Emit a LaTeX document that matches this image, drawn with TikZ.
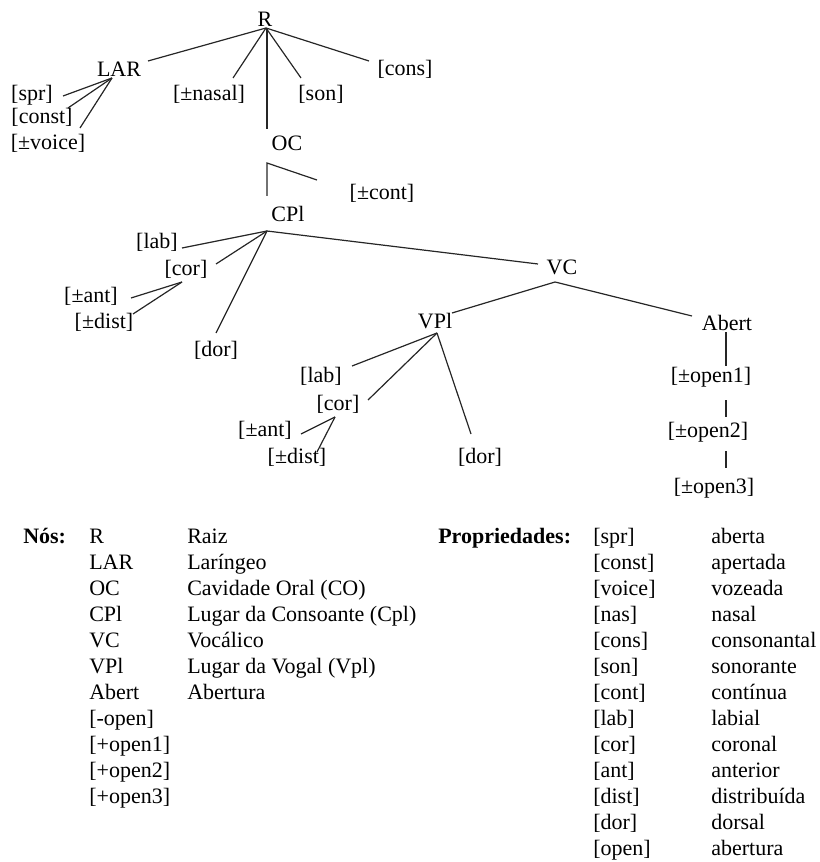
\documentclass[tikz,border=0pt]{standalone}
\usepackage{fontspec}
\setmainfont{Liberation Serif}
\begin{document}
\begin{tikzpicture}[x=0.75pt,y=-0.75pt,
  lbl/.style={inner sep=0pt, text height=11.2pt, text depth=3.3pt, font=\fontsize{16.5}{19}\selectfont},
  tbl/.style={lbl, anchor=west},
  hd/.style={tbl, font=\fontsize{16.5}{19}\selectfont\bfseries},
  edge/.style={draw=black!85, line width=0.9pt}]
\useasboundingbox (0,0) rectangle (819,862);

% ---------- tree nodes ----------
\node[lbl] (R) at (265,21) {R};
\node[lbl] (LAR) at (119,71) {LAR};
\node[lbl] (cons) at (405,70) {[cons]};
\node[lbl] (nasal) at (209,95) {[±nasal]};
\node[lbl] (son) at (321,95) {[son]};
\node[lbl] (spr) at (32,95) {[spr]};
\node[lbl] (const) at (42,118) {[const]};
\node[lbl] (voice) at (48,144) {[±voice]};
\node[lbl] (OC) at (287,145) {OC};
\node[lbl] (cont) at (382,194) {[±cont]};
\node[lbl] (CPl) at (288,216) {CPl};
\node[lbl] (labA) at (157,243) {[lab]};
\node[lbl] (corA) at (186,270) {[cor]};
\node[lbl] (antA) at (91,297) {[±ant]};
\node[lbl] (distA) at (104,323) {[±dist]};
\node[lbl] (dorA) at (216,351) {[dor]};
\node[lbl] (VC) at (562,269) {VC};
\node[lbl] (VPl) at (435,323) {VPl};
\node[lbl] (Abert) at (727,325) {Abert};
\node[lbl] (labB) at (321,377) {[lab]};
\node[lbl] (corB) at (338,405) {[cor]};
\node[lbl] (antB) at (265,431) {[±ant]};
\node[lbl] (distB) at (297,458) {[±dist]};
\node[lbl] (dorB) at (480,458) {[dor]};
\node[lbl] (op1) at (711,377) {[±open1]};
\node[lbl] (op2) at (708,432) {[±open2]};
\node[lbl] (op3) at (714,488) {[±open3]};

% ---------- connector points ----------
\coordinate (Rh) at (266,28);
\coordinate (Rv) at (267,28);
\coordinate (LARu) at (148,61);
\coordinate (nasalu) at (233,78);
\coordinate (sonu) at (301,78);
\coordinate (consu) at (369,61);
\coordinate (OCu) at (267,129);
\coordinate (LARh) at (112,78);
\coordinate (spre) at (63,96);
\coordinate (conste) at (68,108);
\coordinate (voicee) at (80,128);
\coordinate (OCh) at (267,163);
\coordinate (contu) at (317,180);
\coordinate (CPlu) at (267,196);
\coordinate (CPlh) at (267,231);
\coordinate (labAe) at (182,248);
\coordinate (corAe) at (216,264);
\coordinate (dorAu) at (216,333);
\coordinate (VCw) at (538,264);
\coordinate (corAh) at (182,282);
\coordinate (antAe) at (131,298);
\coordinate (distAe) at (133,314);
\coordinate (VCh) at (555,282);
\coordinate (VPlu) at (452,313);
\coordinate (Abertu) at (692,316);
\coordinate (VPlh) at (437,333);
\coordinate (labBe) at (352,366);
\coordinate (corBe) at (368,400);
\coordinate (dorBu) at (471,434);
\coordinate (corBh) at (335,417);
\coordinate (antBe) at (301,434);
\coordinate (distBe) at (317,452);
\coordinate (Abd) at (726,332);
\coordinate (op1u) at (726,366);
\coordinate (op1d) at (726,400);
\coordinate (op2u) at (726,417);
\coordinate (op2d) at (726,451);
\coordinate (op3u) at (726,468);

% ---------- connectors ----------
\draw[edge] (Rh) -- (LARu);
\draw[edge] (Rh) -- (nasalu);
\draw[edge] (Rh) -- (sonu);
\draw[edge] (Rh) -- (consu);
\draw[edge] (Rv) -- (OCu);
\draw[edge] (LARh) -- (spre);
\draw[edge] (LARh) -- (conste);
\draw[edge] (LARh) -- (voicee);
\draw[edge] (contu) -- (OCh) -- (CPlu);
\draw[edge] (CPlh) -- (labAe);
\draw[edge] (CPlh) -- (corAe);
\draw[edge] (CPlh) -- (dorAu);
\draw[edge] (CPlh) -- (VCw);
\draw[edge] (corAh) -- (antAe);
\draw[edge] (corAh) -- (distAe);
\draw[edge] (VCh) -- (VPlu);
\draw[edge] (VCh) -- (Abertu);
\draw[edge] (VPlh) -- (labBe);
\draw[edge] (VPlh) -- (corBe);
\draw[edge] (VPlh) -- (dorBu);
\draw[edge] (corBh) -- (antBe);
\draw[edge] (corBh) -- (distBe);
\draw[edge] (Abd) -- (op1u);
\draw[edge] (op1d) -- (op2u);
\draw[edge] (op2d) -- (op3u);

% ---------- legend: nodes ----------
\node[hd] (nos) at (23,538) {Nós:};
\foreach \t [count=\i from 0] in {R,LAR,OC,CPl,VC,VPl,Abert,[-open],[+open1],[+open2],[+open3]}
  \node[tbl] (n\i) at (89,538+26*\i) {\t};
\foreach \t [count=\i from 0] in {Raiz,Laríngeo,Cavidade Oral (CO),Lugar da Consoante (Cpl),Vocálico,Lugar da Vogal (Vpl),Abertura}
  \node[tbl] (d\i) at (187,538+26*\i) {\t};

% ---------- legend: properties ----------
\node[hd] (prop) at (438,538) {Propriedades:};
\foreach \t [count=\i from 0] in {[spr],[const],[voice],[nas],[cons],[son],[cont],[lab],[cor],[ant],[dist],[dor],[open]}
  \node[tbl] (p\i) at (593,538+26*\i) {\t};
\foreach \t [count=\i from 0] in {aberta,apertada,vozeada,nasal,consonantal,sonorante,contínua,labial,coronal,anterior,distribuída,dorsal,abertura}
  \node[tbl] (q\i) at (711,538+26*\i) {\t};
\end{tikzpicture}
\end{document}
